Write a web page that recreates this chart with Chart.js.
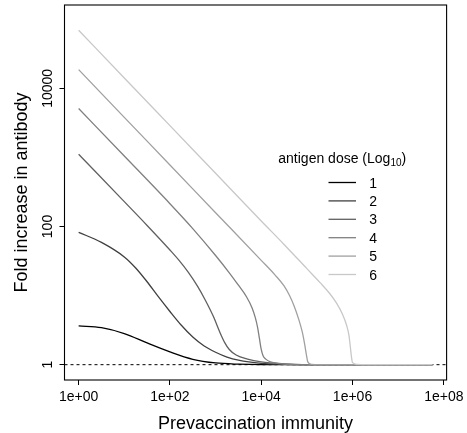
<!DOCTYPE html>
<html>
<head>
<meta charset="utf-8">
<script src="https://cdn.jsdelivr.net/npm/chart.js@4.4.1/dist/chart.umd.min.js"></script>
<style>
  html, body { margin: 0; padding: 0; background: #fff; }
  canvas { display: block; }
</style>
</head>
<body>
<canvas id="chart" width="467" height="433"></canvas>
<script>
/* Fold increase in antibody vs prevaccination immunity, one curve per antigen dose.
 * Both axes are log10; the points below are read off the reference as log10 values. */

const DOSES = ["1", "2", "3", "4", "5", "6"];

const LOGX_1 = [0, 0.5, 1.0, 1.5, 2.0, 2.5, 3.0, 3.5, 4.0, 7.75];
const LOGY_1 = [0.562, 0.535, 0.45, 0.315, 0.185, 0.078, 0.025, 0.007, 0, 0];

const LOGX_2 = [0, 0.5, 1.0, 1.25, 1.5, 1.75, 2.0, 2.25, 2.5, 2.75, 3.0, 3.25, 3.5, 4.0, 4.5, 5.0, 7.75];
const LOGY_2 = [1.916, 1.77, 1.56, 1.4, 1.2, 0.98, 0.77, 0.57, 0.4, 0.27, 0.18, 0.11, 0.065, 0.02, 0.005, 0, 0];

const LOGX_3 = [0, 1.0, 1.5, 2.0, 2.2, 2.4, 2.6, 2.77, 2.95, 3.1, 3.2, 3.3, 3.45, 3.7, 4.0, 4.5, 5.0, 7.75];
const LOGY_3 = [3.045, 2.36, 2.015, 1.66, 1.51, 1.34, 1.14, 0.94, 0.7, 0.46, 0.32, 0.22, 0.14, 0.08, 0.04, 0.012, 0, 0];

const LOGX_4 = [0, 1.0, 2.0, 2.5, 3.0, 3.3, 3.5, 3.68, 3.8, 3.87, 3.92, 3.96, 4.0, 4.04, 4.1, 4.2, 4.4, 4.7, 7.75];
const LOGY_4 = [3.707, 3.02, 2.33, 1.97, 1.58, 1.33, 1.15, 0.98, 0.82, 0.68, 0.54, 0.38, 0.22, 0.13, 0.08, 0.04, 0.015, 0, 0];

const LOGX_5 = [0, 1.0, 2.0, 3.0, 4.0, 4.3, 4.5, 4.62, 4.72, 4.82, 4.9, 4.95, 4.99, 5.02, 5.1, 5.3, 7.75];
const LOGY_5 = [4.27, 3.58, 2.89, 2.2, 1.51, 1.3, 1.14, 1.0, 0.85, 0.66, 0.47, 0.3, 0.14, 0.04, 0.005, 0, 0];

const LOGX_6 = [0, 1.0, 2.0, 3.0, 4.0, 4.5, 5.0, 5.3, 5.5, 5.65, 5.78, 5.87, 5.92, 5.95, 5.975, 6.0, 6.1, 6.3, 7.75];
const LOGY_6 = [4.841, 4.15, 3.46, 2.77, 2.08, 1.74, 1.39, 1.18, 1.03, 0.89, 0.73, 0.57, 0.43, 0.27, 0.12, 0.03, 0.005, 0, 0];

const X_TICKS = [1, 1e2, 1e4, 1e6, 1e8];
const X_TICK_LABELS = ["1e+00", "1e+02", "1e+04", "1e+06", "1e+08"];
const Y_TICKS = [1, 100, 10000];
const Y_TICK_LABELS = ["1", "100", "10000"];
const BASELINE = 1;   // dotted reference line

const X_MIN = 0.49, X_MAX = 1.15e8;
const Y_MIN = 0.635, Y_MAX = 1.607e5;

const COLORS = ["#000000", "#404040", "#606060", "#808080", "#a0a0a0", "#c8c8c8"];
const FONT = "'Liberation Sans', Arial, Helvetica, sans-serif";
const LINE_W = 1.3;

const SERIES = [
  [LOGX_1, LOGY_1], [LOGX_2, LOGY_2], [LOGX_3, LOGY_3],
  [LOGX_4, LOGY_4], [LOGX_5, LOGY_5], [LOGX_6, LOGY_6],
];

const datasets = SERIES.map(([lx, ly], i) => ({
  label: DOSES[i],
  data: lx.map((v, j) => ({ x: 10 ** v, y: 10 ** ly[j] })),
  borderColor: COLORS[i],
  backgroundColor: COLORS[i],
  borderWidth: LINE_W,
  pointRadius: 0,
  cubicInterpolationMode: "monotone",
  fill: false,
  order: DOSES.length - 1 - i,   // lighter curves on top, as in the R plot
}));

// Box, dotted line at 1, rotated y labels, axis titles and the legend.
const frame = {
  id: "frame",
  beforeDatasetsDraw(chart) {
    const { ctx, chartArea: a, scales } = chart;
    const y = scales.y.getPixelForValue(BASELINE);
    ctx.save();
    ctx.strokeStyle = "#000";
    ctx.lineWidth = 1;
    ctx.setLineDash([3, 3]);
    ctx.beginPath();
    ctx.moveTo(a.left, y);
    ctx.lineTo(a.right, y);
    ctx.stroke();
    ctx.restore();
  },
  afterDraw(chart) {
    const { ctx, chartArea: a, scales } = chart;
    ctx.save();
    ctx.strokeStyle = "#000";
    ctx.lineWidth = 1.1;
    ctx.strokeRect(a.left, a.top, a.right - a.left, a.bottom - a.top);

    ctx.fillStyle = "#000";
    ctx.font = `14px ${FONT}`;
    ctx.textAlign = "center";
    ctx.textBaseline = "alphabetic";
    Y_TICKS.forEach((v, i) => {
      ctx.save();
      ctx.translate(52.3, scales.y.getPixelForValue(v));
      ctx.rotate(-Math.PI / 2);
      ctx.fillText(Y_TICK_LABELS[i], 0, 0);
      ctx.restore();
    });

    ctx.font = `18px ${FONT}`;
    ctx.fillText("Prevaccination immunity", (a.left + a.right) / 2, 428.5);
    ctx.save();
    ctx.translate(26.5, (a.top + a.bottom) / 2);
    ctx.rotate(-Math.PI / 2);
    ctx.fillText("Fold increase in antibody", 0, 0);
    ctx.restore();

    // legend
    ctx.textAlign = "left";
    ctx.font = `14px ${FONT}`;
    let x = 278.3;
    const ty = 162.7;
    ctx.fillText("antigen dose (Log", x, ty);
    x += ctx.measureText("antigen dose (Log").width;
    ctx.font = `10px ${FONT}`;
    ctx.fillText("10", x, ty + 3.5);
    x += ctx.measureText("10").width;
    ctx.font = `14px ${FONT}`;
    ctx.fillText(")", x, ty);

    DOSES.forEach((d, i) => {
      const ly = 182.5 + i * 18.4;
      ctx.strokeStyle = COLORS[i];
      ctx.lineWidth = LINE_W;
      ctx.beginPath();
      ctx.moveTo(328.5, ly);
      ctx.lineTo(356, ly);
      ctx.stroke();
      ctx.fillText(d, 369.2, ly + 5);
    });
    ctx.restore();
  },
};

new Chart(document.getElementById("chart"), {
  type: "line",
  data: { datasets },
  options: {
    responsive: false,
    animation: false,
    events: [],
    layout: { padding: { left: 0, top: 5, right: 20.4, bottom: 0 } },
    plugins: { legend: { display: false }, tooltip: { enabled: false } },
    scales: {
      x: {
        type: "logarithmic",
        min: X_MIN,
        max: X_MAX,
        afterBuildTicks: (s) => { s.ticks = X_TICKS.map((value) => ({ value })); },
        afterFit: (s) => { s.height = 53; s.paddingLeft = 0; s.paddingRight = 0; },
        ticks: {
          autoSkip: false,
          maxRotation: 0,
          minRotation: 0,
          padding: 4,
          color: "#000",
          font: { family: FONT, size: 14 },
          callback: (v, i) => X_TICK_LABELS[i],
        },
        grid: { display: true, drawOnChartArea: false, drawTicks: true, tickLength: 5, color: "#000", lineWidth: 1 },
        border: { display: false },
      },
      y: {
        type: "logarithmic",
        min: Y_MIN,
        max: Y_MAX,
        afterBuildTicks: (s) => { s.ticks = Y_TICKS.map((value) => ({ value })); },
        afterFit: (s) => { s.width = 64.5; s.paddingTop = 0; s.paddingBottom = 0; },
        ticks: { display: false },
        grid: { display: true, drawOnChartArea: false, drawTicks: true, tickLength: 5, color: "#000", lineWidth: 1 },
        border: { display: false },
      },
    },
  },
  plugins: [frame],
});
</script>
</body>
</html>
